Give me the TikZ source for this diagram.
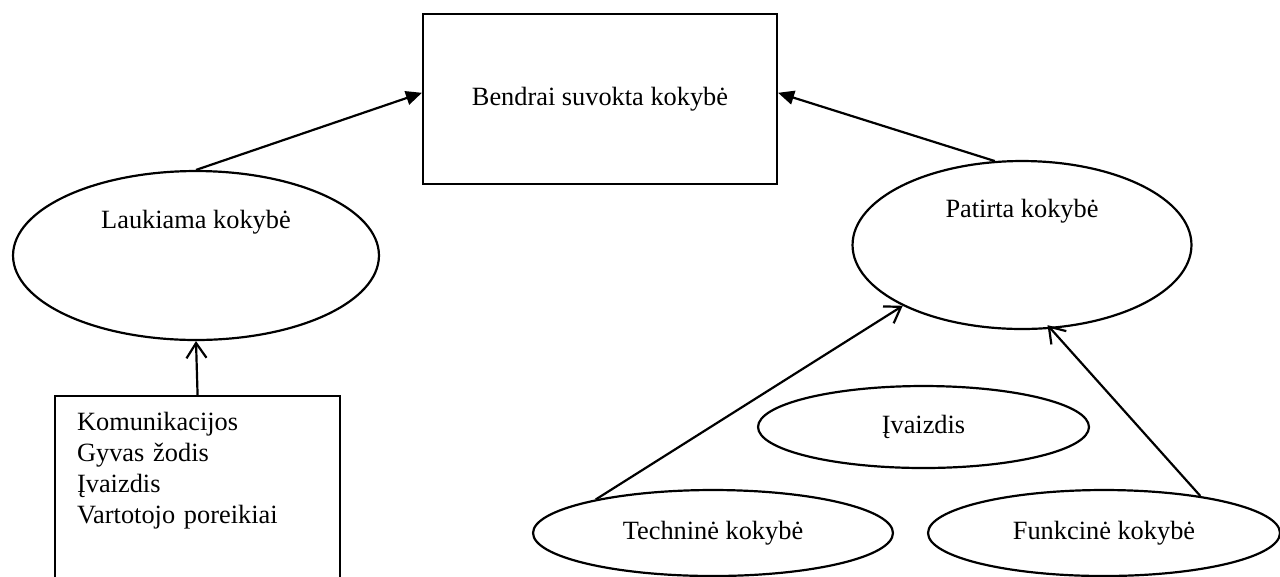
\documentclass[tikz,border=0pt]{standalone}
\usepackage{fontspec}
\setmainfont{Liberation Serif}
\usetikzlibrary{shapes.geometric,arrows.meta}

\begin{document}
\begin{tikzpicture}[x=0.02cm,y=-0.02cm,line width=1.25pt,
		font=\fontsize{15}{17.6}\selectfont,
		box/.style={draw,rectangle},
		oval/.style={draw,ellipse,inner sep=0pt},
		solid head/.style={-{Triangle[length=0.32cm,width=0.28cm]}},
		open head/.style={-{Straight Barb[length=0.3cm,width=0.4cm]}}]
		\useasboundingbox (0,0) rectangle (1280,576);
		\clip (0,0) rectangle (1280,576);
		
		\node[box,minimum width=7.08cm,minimum height=3.4cm,text depth=0.1cm] (bendrai) at (600,99) {Bendrai suvokta kokybė};
		\node[oval,minimum width=7.32cm,minimum height=3.38cm,label={[yshift=0.67cm]center:Laukiama kokybė}] (laukiama) at (196,255.5) {};
		\node[oval,minimum width=6.78cm,minimum height=3.36cm,label={[yshift=0.68cm]center:Patirta kokybė}] (patirta) at (1022,245) {};
		\node[box,anchor=north west,align=left,text width=4.82cm,inner xsep=0.44cm,inner ysep=0.32cm,text depth=3.6cm] (veiksniai) at (54,395) {Komunikacijos\\Gyvas žodis\\Įvaizdis\\Vartotojo poreikiai};
		\node[oval,minimum width=6.62cm,minimum height=1.64cm] (ivaizdis) at (923.5,427) {Įvaizdis};
		\node[oval,minimum width=7.2cm,minimum height=1.72cm] (technine) at (713,533) {Techninė kokybė};
		\node[oval,minimum width=7.04cm,minimum height=1.72cm] (funkcine) at (1104,533) {Funkcinė kokybė};
		
		\draw[solid head] (laukiama.north) -- (bendrai.178);
		\draw[solid head] (patirta.108) -- (bendrai.2);
		\draw[open head] (veiksniai.north) -- (laukiama.south);
		\draw[open head] (technine.164) -- (patirta.207);
		\draw[open head,shorten >=-0.1cm] (funkcine.21) -- (patirta.289);
\end{tikzpicture}
\end{document}
